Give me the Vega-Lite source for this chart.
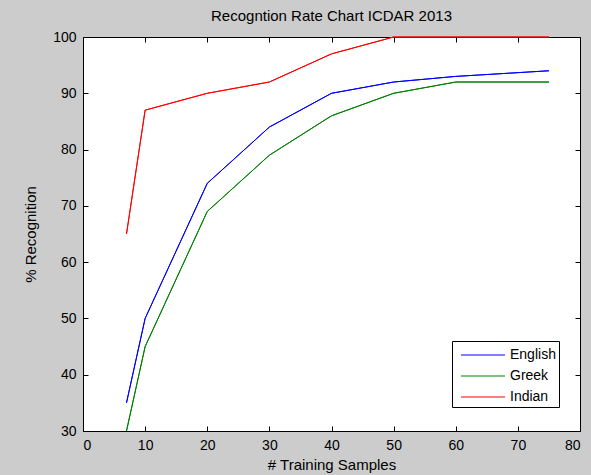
{
  "$schema": "https://vega.github.io/schema/vega-lite/v6.json",
  "autosize": "none",
  "width": 497,
  "height": 394,
  "padding": {"left": 83, "top": 37, "right": 11, "bottom": 44},
  "background": "#cccccc",
  "title": {"text": "Recogntion Rate Chart ICDAR 2013", "font": "Liberation Sans", "fontSize": 15, "fontWeight": "normal", "color": "#000000", "offset": 6},
  "config": {
    "view": {"stroke": "#000000", "strokeWidth": 1, "fill": "#ffffff"},
    "axis": {"grid": false, "domain": false, "labelFont": "Liberation Sans", "labelFontSize": 14, "labelColor": "#000000", "titleFont": "Liberation Sans", "titleFontSize": 15, "titleFontWeight": "normal", "titleColor": "#000000", "tickColor": "#000000", "tickSize": -5, "labelPadding": 12}
  },
  "data": {"values": [
    {"samples": 7, "rate": 35, "lang": "English"},
    {"samples": 10, "rate": 50, "lang": "English"},
    {"samples": 20, "rate": 74, "lang": "English"},
    {"samples": 30, "rate": 84, "lang": "English"},
    {"samples": 40, "rate": 90, "lang": "English"},
    {"samples": 50, "rate": 92, "lang": "English"},
    {"samples": 60, "rate": 93, "lang": "English"},
    {"samples": 75, "rate": 94, "lang": "English"},
    {"samples": 7, "rate": 30, "lang": "Greek"},
    {"samples": 10, "rate": 45, "lang": "Greek"},
    {"samples": 20, "rate": 69, "lang": "Greek"},
    {"samples": 30, "rate": 79, "lang": "Greek"},
    {"samples": 40, "rate": 86, "lang": "Greek"},
    {"samples": 50, "rate": 90, "lang": "Greek"},
    {"samples": 60, "rate": 92, "lang": "Greek"},
    {"samples": 75, "rate": 92, "lang": "Greek"},
    {"samples": 7, "rate": 65, "lang": "Indian"},
    {"samples": 10, "rate": 87, "lang": "Indian"},
    {"samples": 20, "rate": 90, "lang": "Indian"},
    {"samples": 30, "rate": 92, "lang": "Indian"},
    {"samples": 40, "rate": 97, "lang": "Indian"},
    {"samples": 50, "rate": 100, "lang": "Indian"},
    {"samples": 60, "rate": 100, "lang": "Indian"},
    {"samples": 75, "rate": 100, "lang": "Indian"}
  ]},
  "layer": [
    {
      "mark": {"type": "line", "strokeWidth": 1},
      "encoding": {
        "x": {"field": "samples", "type": "quantitative", "scale": {"domain": [0, 80], "nice": false}, "axis": {"values": [0,10,20,30,40,50,60,70,80], "title": "# Training Samples", "titlePadding": 5}},
        "y": {"field": "rate", "type": "quantitative", "scale": {"domain": [30, 100], "nice": false, "zero": false}, "axis": {"values": [30,40,50,60,70,80,90,100], "title": "% Recognition", "titlePadding": 14}},
        "color": {"field": "lang", "type": "nominal", "scale": {"domain": ["English", "Greek", "Indian"], "range": ["#0000ff", "#008000", "#ff0000"]},
          "legend": {"title": null, "orient": "none", "legendX": 369, "legendY": 304, "symbolType": "M-2,-0.045H2V0.045H-2Z", "symbolSize": 484, "symbolOffset": 17, "symbolStrokeWidth": 0, "labelFont": "Liberation Sans", "labelFontSize": 14, "labelColor": "#000000", "strokeColor": "#000000", "fillColor": "#ffffff", "padding": 3, "rowPadding": 3, "labelOffset": 16,
            "encode": {"symbols": {"update": {"fill": {"scale": "color", "field": "value"}, "fillOpacity": {"value": 1}, "strokeWidth": {"value": 0}}}}}}
      }
    },
    {
      "mark": {"type": "line", "strokeWidth": 1},
      "encoding": {
        "x": {"field": "samples", "type": "quantitative", "scale": {"domain": [0, 80], "nice": false}, "axis": {"orient": "top", "values": [0,10,20,30,40,50,60,70,80], "labels": false, "title": null}},
        "y": {"field": "rate", "type": "quantitative", "scale": {"domain": [30, 100], "nice": false, "zero": false}, "axis": {"orient": "right", "values": [30,40,50,60,70,80,90,100], "labels": false, "title": null}},
        "color": {"field": "lang", "type": "nominal", "legend": null}
      }
    }
  ],
  "resolve": {"axis": {"x": "independent", "y": "independent"}}
}
